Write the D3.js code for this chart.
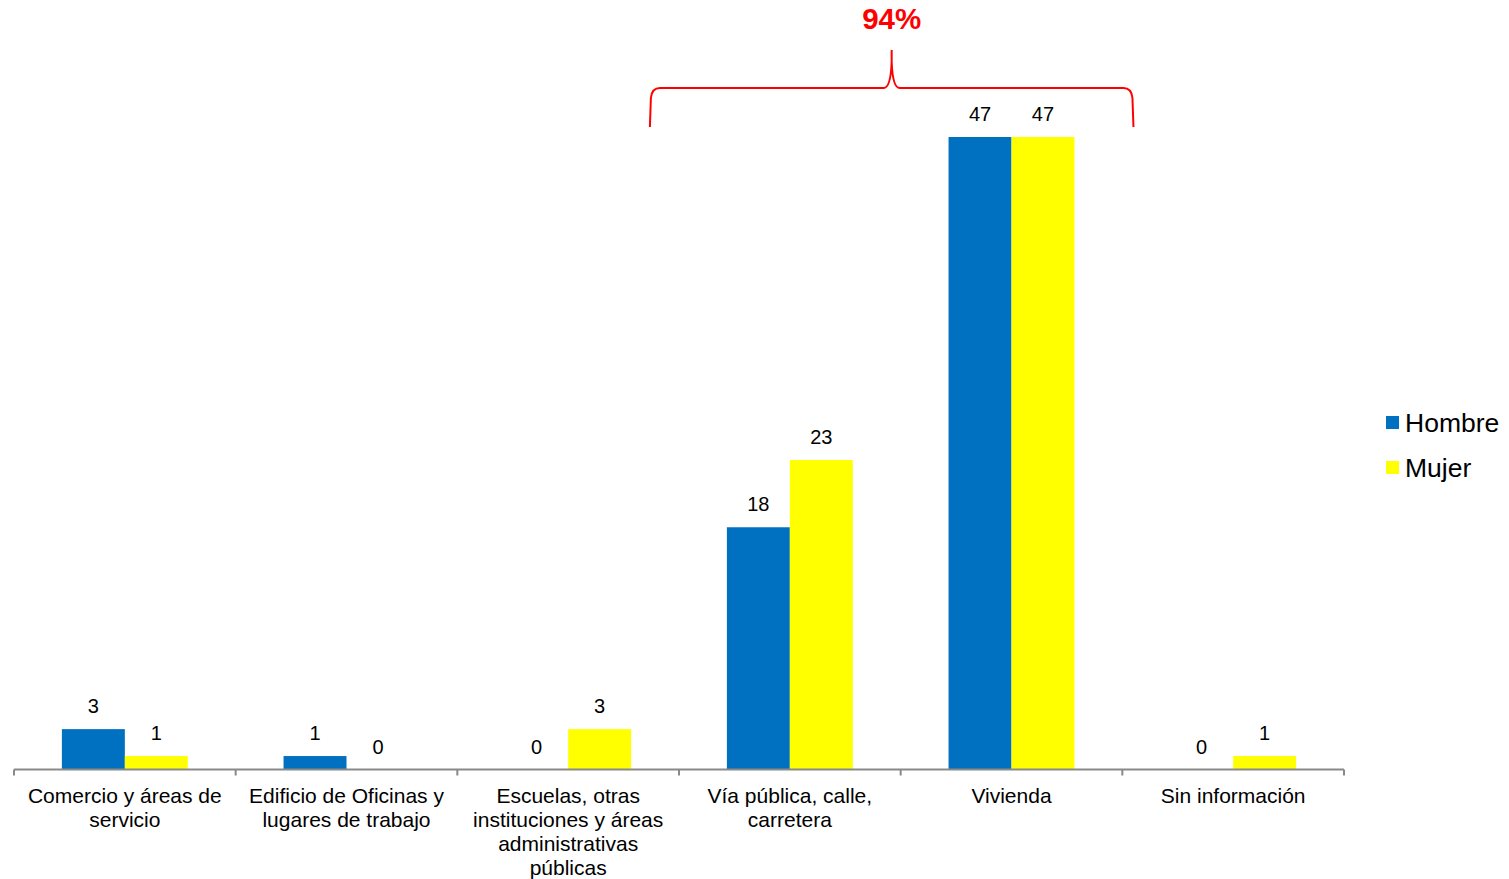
<!DOCTYPE html>
<html>
<head>
<meta charset="utf-8">
<script src="https://cdn.jsdelivr.net/npm/d3@7"></script>
<style>
  body { margin: 0; background: #fff; }
  svg { font-family: "Liberation Sans", Arial, sans-serif; }
  .axis path, .axis line { stroke: #898989; stroke-width: 2px; }
  .lbl { font-size: 20px; fill: #000; }
  .cat { font-size: 21px; fill: #000; }
</style>
</head>
<body>
<svg width="1509" height="879"></svg>
<script>
var width = 1509,
    height = 879;

var categories = [
  "Comercio y áreas de servicio",
  "Edificio de Oficinas y lugares de trabajo",
  "Escuelas, otras instituciones y áreas administrativas públicas",
  "Vía pública, calle, carretera",
  "Vivienda",
  "Sin información"
];
var categoryLines = [
  ["Comercio y áreas de", "servicio"],
  ["Edificio de Oficinas y", "lugares de trabajo"],
  ["Escuelas, otras", "instituciones y áreas", "administrativas", "públicas"],
  ["Vía pública, calle,", "carretera"],
  ["Vivienda"],
  ["Sin información"]
];
var series = ["Hombre", "Mujer"];
var hombre = [3, 1, 0, 18, 47, 0];
var mujer = [1, 0, 3, 23, 47, 1];
var colors = ["#0070C0", "#FFFF00"];
var bracketCats = ["Vía pública, calle, carretera", "Vivienda"];
var bracketLabel = "94%";

var margin = {left: 14, right: 165, base: 769.5};

var svg = d3.select("svg");

var x0 = d3.scaleBand()
    .domain(categories)
    .range([margin.left, width - margin.right])
    .paddingInner(0.432)
    .paddingOuter(0.216);

var x1 = d3.scaleBand()
    .domain(series)
    .range([0, x0.bandwidth()]);

var y = d3.scaleLinear()
    .domain([0, 47])
    .range([margin.base, 137]);

var color = d3.scaleOrdinal().domain(series).range(colors);

var rows = categories.map(function(c, i) {
  return {cat: c, values: [{s: "Hombre", v: hombre[i]}, {s: "Mujer", v: mujer[i]}]};
});

var groups = svg.append("g").selectAll("g")
    .data(rows)
    .enter().append("g")
    .attr("transform", function(d) { return "translate(" + x0(d.cat) + ",0)"; });

groups.selectAll("rect")
    .data(function(d) { return d.values; })
    .enter().append("rect")
    .attr("x", function(d) { return x1(d.s); })
    .attr("y", function(d) { return y(d.v); })
    .attr("width", x1.bandwidth())
    .attr("height", function(d) { return y(0) - y(d.v); })
    .attr("fill", function(d) { return color(d.s); });

groups.selectAll("text")
    .data(function(d) { return d.values; })
    .enter().append("text")
    .attr("class", "lbl")
    .attr("text-anchor", "middle")
    .attr("x", function(d) { return x1(d.s) + x1.bandwidth() / 2; })
    .attr("y", function(d) { return y(d.v) - 16; })
    .text(function(d) { return d.v; });

// category axis with ticks between bands
var step = x0.step();
var tickPos = d3.range(categories.length + 1).map(function(i) { return margin.left + i * step; });
var axis = svg.append("g").attr("class", "axis");
axis.append("line")
    .attr("x1", tickPos[0]).attr("x2", tickPos[tickPos.length - 1])
    .attr("y1", margin.base).attr("y2", margin.base);
axis.selectAll(".tick")
    .data(tickPos)
    .enter().append("line")
    .attr("x1", function(d) { return d; }).attr("x2", function(d) { return d; })
    .attr("y1", margin.base).attr("y2", margin.base + 6);

var catText = svg.append("g").selectAll("text")
    .data(categories)
    .enter().append("text")
    .attr("class", "cat")
    .attr("text-anchor", "middle")
    .attr("x", function(d) { return x0(d) + x0.bandwidth() / 2; })
    .attr("y", margin.base + 33);
catText.selectAll("tspan")
    .data(function(d, i) { return categoryLines[i]; })
    .enter().append("tspan")
    .attr("x", function() { return d3.select(this.parentNode).attr("x"); })
    .attr("dy", function(d, i) { return i === 0 ? 0 : 24.3; })
    .text(function(d) { return d; });

// legend
var legend = svg.append("g").selectAll("g")
    .data(series)
    .enter().append("g")
    .attr("transform", function(d, i) { return "translate(1386," + (416 + i * 45) + ")"; });
legend.append("rect")
    .attr("width", 13).attr("height", 13)
    .attr("fill", function(d) { return color(d); });
legend.append("text")
    .attr("x", 19).attr("y", 15.5)
    .style("font-size", "26.5px")
    .text(function(d) { return d; });

// bracket over the two main categories
var bl = x0(bracketCats[0]) - 77,
    br = x0(bracketCats[1]) + x0.bandwidth() + 59,
    bm = (bl + br) / 2,
    by = 88, bBottom = 127, bTop = 50;
var bp = d3.path();
bp.moveTo(bl, bBottom);
bp.lineTo(bl + 1, by + 10);
bp.quadraticCurveTo(bl + 2, by, bl + 10, by);
bp.lineTo(bm - 8, by);
bp.quadraticCurveTo(bm - 1, by, bm, bTop + 12);
bp.lineTo(bm, bTop);
bp.moveTo(bm, bTop + 12);
bp.quadraticCurveTo(bm + 1, by, bm + 8, by);
bp.lineTo(br - 10, by);
bp.quadraticCurveTo(br - 2, by, br - 1, by + 10);
bp.lineTo(br, bBottom);
svg.append("path")
    .attr("d", bp.toString())
    .attr("fill", "none")
    .attr("stroke", "#FF0000")
    .attr("stroke-width", 2);
svg.append("text")
    .attr("x", bm).attr("y", 29)
    .attr("text-anchor", "middle")
    .style("font-size", "29.5px")
    .style("font-weight", "bold")
    .style("fill", "#FF0000")
    .text(bracketLabel);
</script>
</body>
</html>
